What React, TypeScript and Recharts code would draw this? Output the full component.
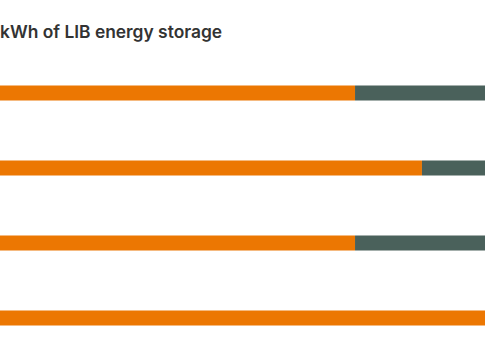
import { BarChart, Bar, XAxis, YAxis } from "recharts";

const categories = ["A", "B", "C", "D"];
const primaryShare = [73.2, 87.0, 73.2, 100];
const secondaryShare = [26.8, 13.0, 26.8, 0];

const data = categories.map((name, i) => ({
  name,
  primary: primaryShare[i],
  secondary: secondaryShare[i],
}));

export default function App() {
  return (
    <div style={{ position: "fixed", left: 0, top: 0, width: 485, height: 360, background: "#fff", overflow: "hidden" }}>
      <div
        style={{
          position: "absolute",
          left: 0,
          top: 21,
          fontFamily: "Inter",
          fontWeight: 600,
          fontSize: 17.4,
          color: "#333",
          whiteSpace: "nowrap",
        }}
      >
        kWh of LIB energy storage
      </div>
      <BarChart
        width={485}
        height={360}
        data={data}
        layout="vertical"
        margin={{ top: 55.5, right: 0, bottom: 4.5, left: 0 }}
        barSize={15}
      >
        <XAxis type="number" domain={[0, 100]} hide />
        <YAxis type="category" dataKey="name" hide />
        <Bar dataKey="primary" stackId="a" fill="#EC7702" isAnimationActive={false} />
        <Bar dataKey="secondary" stackId="a" fill="#4A615B" isAnimationActive={false} />
      </BarChart>
    </div>
  );
}
